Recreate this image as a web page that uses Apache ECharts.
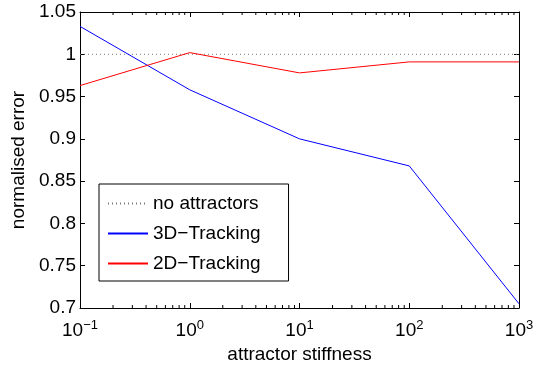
<!DOCTYPE html>
<html><head><meta charset="utf-8">
<script src="https://cdn.jsdelivr.net/npm/echarts@6/dist/echarts.min.js"></script>
<style>html,body{margin:0;padding:0;background:#fff}#c{width:542px;height:365px}</style>
</head><body><div id="c"></div>
<script>
const stiffness = [0.1, 1, 10, 100, 1000];
const track3D = [1.033, 0.958, 0.900, 0.868, 0.705];
const track2D = [0.963, 1.002, 0.978, 0.991, 0.991];
const baseline = [1, 1, 1, 1, 1];
const xTickExp = {0.1: '−1', 1: '0', 10: '1', 100: '2', 1000: '3'};
const minorTickVals = [0.2,0.3,0.4,0.5,0.6,0.7,0.8,0.9,2,3,4,5,6,7,8,9,20,30,40,50,60,70,80,90,200,300,400,500,600,700,800,900];
const FONT = 'Liberation Sans';
const FS = 19;

const chart = echarts.init(document.getElementById('c'), null, {renderer: 'canvas'});
const pair = (xs, ys) => xs.map((x, i) => [x, ys[i]]);
const axisCommon = {
  axisLine: {show: true, onZero: false, lineStyle: {color: '#000', width: 1}},
  axisTick: {show: true, inside: true, length: 5, lineStyle: {color: '#000'}},
  splitLine: {show: false}
};
chart.setOption({
  animation: false,
  textStyle: {fontFamily: FONT},
  grid: {left: 80, right: 23, top: 12, bottom: 57, containLabel: false, outerBoundsMode: 'none'},
  xAxis: [
    Object.assign({
      type: 'log', logBase: 10, min: 0.1, max: 1000, position: 'bottom',
      name: 'attractor stiffness', nameLocation: 'middle', nameGap: 29,
      nameTextStyle: {fontSize: FS, color: '#000', fontFamily: FONT},
      axisLabel: {
        margin: 11, color: '#000',
        formatter: v => '{b|10}{s|' + (xTickExp[v] !== undefined ? xTickExp[v] : '') + '}',
        rich: {
          b: {fontSize: FS, fontFamily: FONT, color: '#000'},
          s: {fontSize: 13, fontFamily: FONT, color: '#000', padding: [0, 0, 10, 0]}
        }
      }
    }, axisCommon),
    Object.assign({
      type: 'log', logBase: 10, min: 0.1, max: 1000, position: 'top',
      axisLabel: {show: false}
    }, axisCommon)
  ],
  yAxis: [
    Object.assign({
      type: 'value', min: 0.7, max: 1.05, interval: 0.05, position: 'left',
      name: 'normalised error', nameLocation: 'middle', nameGap: 48,
      nameTextStyle: {fontSize: FS, color: '#000', fontFamily: FONT},
      axisLabel: {fontSize: FS, color: '#000', margin: 4, fontFamily: FONT,
        formatter: v => String(parseFloat(v.toFixed(2)))}
    }, axisCommon),
    Object.assign({
      type: 'value', min: 0.7, max: 1.05, interval: 0.05, position: 'right',
      axisLabel: {show: false}
    }, axisCommon)
  ],
  legend: {
    left: 99, top: 184, orient: 'vertical',
    data: ['no attractors', '3D−Tracking', '2D−Tracking'],
    itemWidth: 40, itemHeight: 14, itemGap: 11,
    padding: [10, 28, 8, 8],
    borderColor: '#000', borderWidth: 1, borderRadius: 0,
    backgroundColor: '#fff',
    itemStyle: {opacity: 0},
    textStyle: {fontSize: FS, color: '#000', fontFamily: FONT}
  },
  series: [
    {name: 'no attractors', type: 'line', data: pair(stiffness, baseline), symbol: 'none',
     lineStyle: {color: '#777', width: 1, type: [1, 3]}, itemStyle: {color: '#777'}},
    {name: '3D−Tracking', type: 'line', data: pair(stiffness, track3D), symbol: 'none',
     lineStyle: {color: '#0000ff', width: 1}, itemStyle: {color: '#0000ff'}},
    {name: '2D−Tracking', type: 'line', data: pair(stiffness, track2D), symbol: 'none',
     lineStyle: {color: '#ff0000', width: 1}, itemStyle: {color: '#ff0000'}},
    {name: 'minor', type: 'custom', silent: true, clip: false,
     data: minorTickVals.map(v => [v]),
     encode: {x: 0},
     renderItem: (params, api) => {
       const v = api.value(0);
       const b = api.coord([v, 0.7]);
       const t = api.coord([v, 1.05]);
       return {type: 'group', children: [
         {type: 'line', shape: {x1: b[0], y1: b[1], x2: b[0], y2: b[1] - 3}, style: {stroke: '#000', lineWidth: 1}},
         {type: 'line', shape: {x1: t[0], y1: t[1], x2: t[0], y2: t[1] + 3}, style: {stroke: '#000', lineWidth: 1}}
       ]};
     }}
  ]
});
</script></body></html>
